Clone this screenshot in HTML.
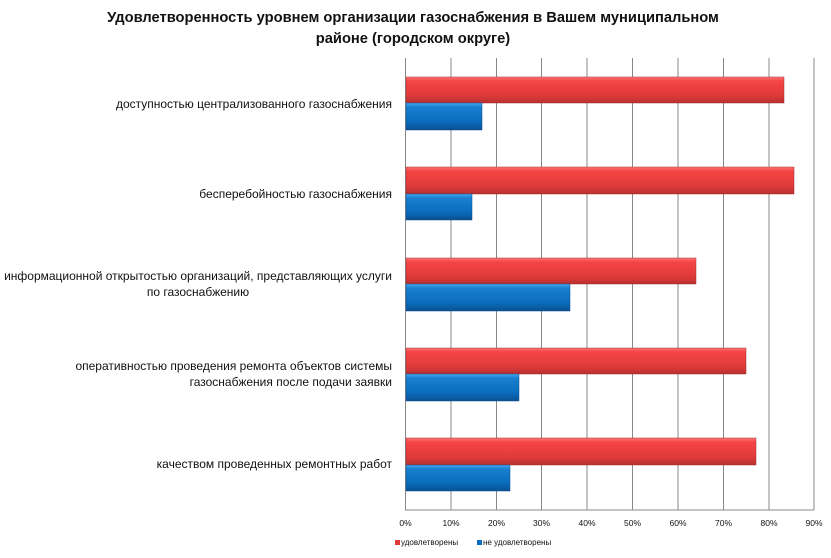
<!DOCTYPE html>
<html><head><meta charset="utf-8"><style>
body{margin:0;background:#fff;}
</style></head><body>
<svg width="831" height="553" xmlns="http://www.w3.org/2000/svg" font-family="Liberation Sans, DejaVu Sans, sans-serif">
<defs>
<linearGradient id="r" x1="0" y1="0" x2="0" y2="1"><stop offset="0" stop-color="#f77"/><stop offset="0.15" stop-color="#f54545"/><stop offset="0.7" stop-color="#e03a3a"/><stop offset="1" stop-color="#b83030"/></linearGradient>
<linearGradient id="b" x1="0" y1="0" x2="0" y2="1"><stop offset="0" stop-color="#4aa8ee"/><stop offset="0.15" stop-color="#1a80d0"/><stop offset="0.7" stop-color="#0a6cbc"/><stop offset="1" stop-color="#0a4f90"/></linearGradient>
</defs>
<text x="413" y="22" text-anchor="middle" font-size="14.7" font-weight="bold" fill="#111">Удовлетворенность уровнем организации газоснабжения в Вашем муниципальном</text>
<text x="413" y="43" text-anchor="middle" font-size="14.7" font-weight="bold" fill="#111">районе (городском округе)</text>
<g stroke="#888" stroke-width="1">
<line x1="405.5" y1="58" x2="405.5" y2="510"/><line x1="451" y1="58" x2="451" y2="510"/><line x1="496.5" y1="58" x2="496.5" y2="510"/><line x1="541.5" y1="58" x2="541.5" y2="510"/><line x1="587" y1="58" x2="587" y2="510"/><line x1="632.5" y1="58" x2="632.5" y2="510"/><line x1="678" y1="58" x2="678" y2="510"/><line x1="723.5" y1="58" x2="723.5" y2="510"/><line x1="769" y1="58" x2="769" y2="510"/><line x1="814" y1="58" x2="814" y2="510"/>
<line x1="405" y1="510" x2="814" y2="510"/>
</g>
<g stroke="#a03030" stroke-width="0.5">
<rect x="406" y="77" width="378" height="26" fill="url(#r)"/>
<rect x="406" y="167" width="388" height="27" fill="url(#r)"/>
<rect x="406" y="258" width="290" height="26" fill="url(#r)"/>
<rect x="406" y="348" width="340" height="26" fill="url(#r)"/>
<rect x="406" y="438" width="350" height="27" fill="url(#r)"/>
</g>
<g stroke="#0a4f90" stroke-width="0.5">
<rect x="406" y="103" width="76" height="27" fill="url(#b)"/>
<rect x="406" y="194" width="66" height="26" fill="url(#b)"/>
<rect x="406" y="284" width="164" height="27" fill="url(#b)"/>
<rect x="406" y="374" width="113" height="27" fill="url(#b)"/>
<rect x="406" y="465" width="104" height="26" fill="url(#b)"/>
</g>
<g font-size="12" fill="#111" text-anchor="end">
<text x="392" y="108">доступностью централизованного газоснабжения</text>
<text x="392" y="198">бесперебойностью газоснабжения</text>
<text x="392" y="280">информационной открытостью организаций, представляющих услуги</text>
<text x="198" y="296" text-anchor="middle">по газоснабжению</text>
<text x="392" y="370">оперативностью проведения  ремонта объектов  системы</text>
<text x="392" y="386">газоснабжения после подачи заявки</text>
<text x="392" y="468">качеством проведенных ремонтных работ</text>
</g>
<g font-size="8.5" fill="#111" text-anchor="middle">
<text x="405.5" y="526">0%</text><text x="451" y="526">10%</text><text x="496.5" y="526">20%</text><text x="541.5" y="526">30%</text><text x="587" y="526">40%</text><text x="632.5" y="526">50%</text><text x="678" y="526">60%</text><text x="723.5" y="526">70%</text><text x="769" y="526">80%</text><text x="814" y="526">90%</text>
</g>
<rect x="395" y="540" width="5" height="5" fill="#e03a3a"/>
<text x="401" y="545" font-size="8" fill="#111">удовлетворены</text>
<rect x="477" y="540" width="5" height="5" fill="#0a6cbc"/>
<text x="483" y="545" font-size="8" fill="#111">не удовлетворены</text>
</svg>
</body></html>
